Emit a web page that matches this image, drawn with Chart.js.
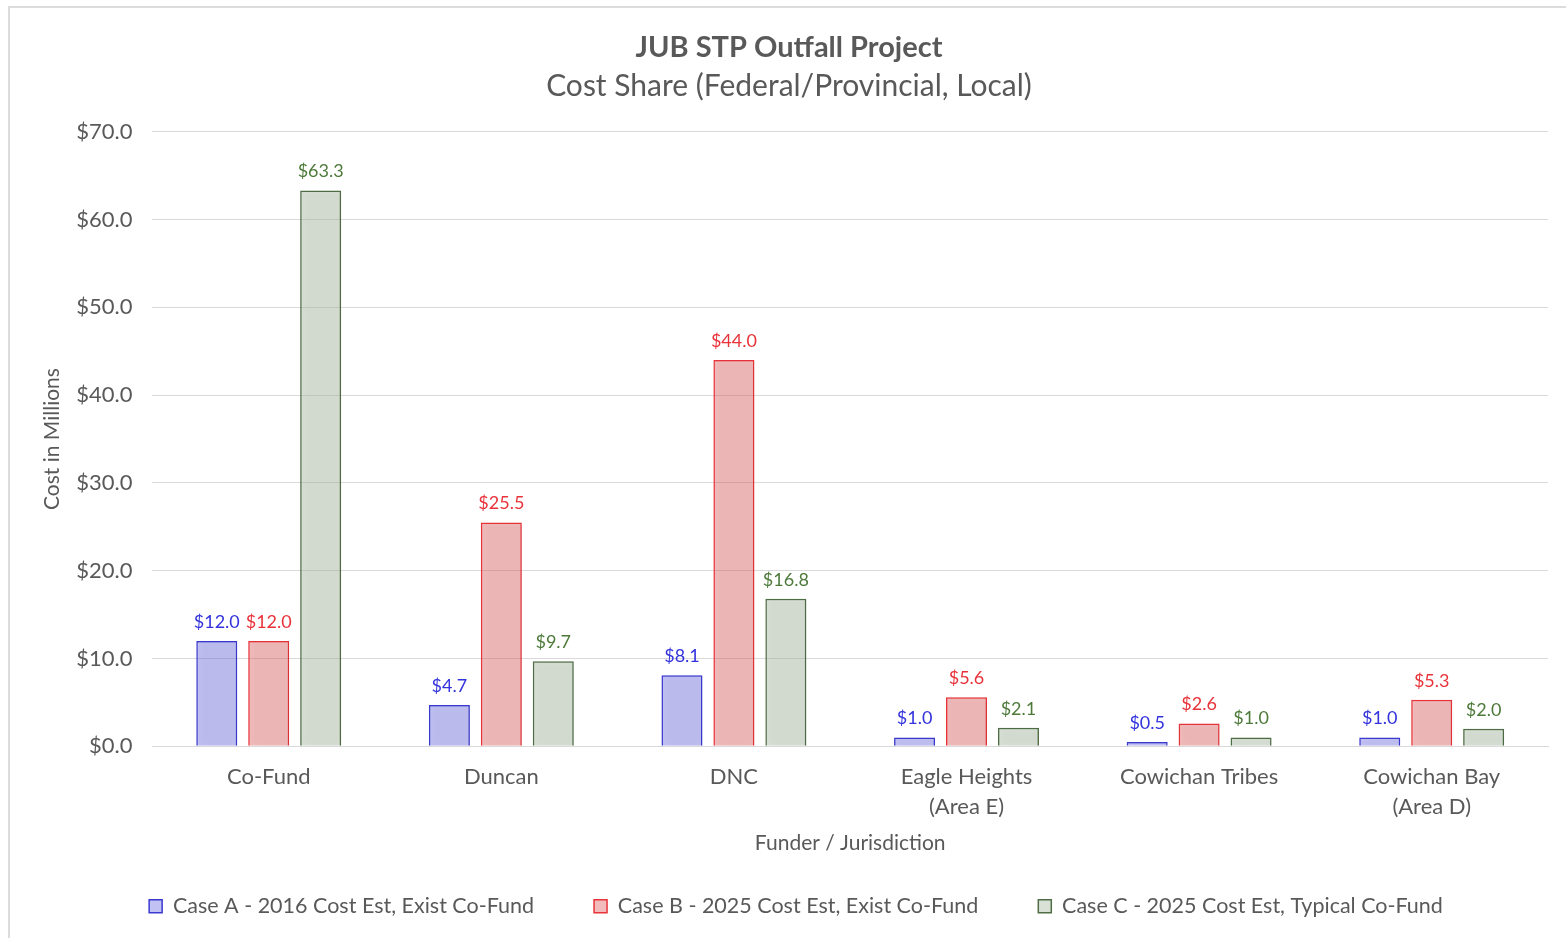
<!DOCTYPE html>
<html>
<head>
<meta charset="utf-8">
<script src="https://cdn.jsdelivr.net/npm/chart.js@4.4.1/dist/chart.umd.min.js"></script>
<style>
  html, body { margin: 0; padding: 0; background: #fff; }
  #wrap { position: absolute; left: 8px; top: 6px; width: 1570px; height: 940px; border: 2px solid #dcdcdc; box-sizing: border-box; }
  #box { position: absolute; left: 0; top: 0; width: 1566px; height: 938px; }
</style>
</head>
<body>
<div id="wrap"></div>
<div id="box"><canvas id="costChart"></canvas></div>
<script>
const categories = ['Co-Fund', 'Duncan', 'DNC', ['Eagle Heights', '(Area E)'], 'Cowichan Tribes', ['Cowichan Bay', '(Area D)']];
const caseA = [12.0, 4.7, 8.1, 1.0, 0.5, 1.0];
const caseB = [12.0, 25.5, 44.0, 5.6, 2.6, 5.3];
const caseC = [63.3, 9.7, 16.8, 2.1, 1.0, 2.0];
const seriesNames = [
  'Case A - 2016 Cost Est, Exist Co-Fund',
  'Case B - 2025 Cost Est, Exist Co-Fund',
  'Case C - 2025 Cost Est, Typical Co-Fund'
];

const fontFam = "Lato, 'Open Sans', sans-serif";
const grey = '#595959';

// sombra suave detras de las barras
const barShadow = {
  id: 'barShadow',
  beforeDatasetsDraw(chart) {
    const ctx = chart.ctx;
    ctx.save();
    ctx.shadowColor = 'rgba(0, 0, 0, 0.12)';
    ctx.shadowBlur = 6;
    ctx.shadowOffsetX = 3;
    ctx.shadowOffsetY = 1;
  },
  afterDatasetsDraw(chart) {
    chart.ctx.restore();
  }
};

// etiquetas de valor encima de cada barra
const barLabels = {
  id: 'barLabels',
  afterDatasetsDraw(chart) {
    const ctx = chart.ctx;
    ctx.save();
    ctx.font = '18px ' + fontFam;
    ctx.textAlign = 'center';
    ctx.textBaseline = 'bottom';
    chart.data.datasets.forEach((ds, i) => {
      const meta = chart.getDatasetMeta(i);
      ctx.fillStyle = ds.labelColor;
      meta.data.forEach((bar, j) => {
        ctx.fillText('$' + ds.data[j].toFixed(1), bar.x, bar.y - 10);
      });
    });
    ctx.restore();
  }
};

// mover la leyenda un poco a la derecha
const legendShift = {
  id: 'legendShift',
  afterLayout(chart) {
    chart.legend.left += 7;
    chart.legend.right += 7;
  }
};

document.addEventListener('DOMContentLoaded', () => {
  const ctx = document.getElementById('costChart').getContext('2d');
  new Chart(ctx, {
    type: 'bar',
    data: {
      labels: categories,
      datasets: [
        {
          label: seriesNames[0],
          data: caseA,
          backgroundColor: 'rgba(120, 120, 228, 0.46)',
          borderColor: '#3a3ad0',
          borderWidth: 1.5,
          labelColor: '#3333dd'
        },
        {
          label: seriesNames[1],
          data: caseB,
          backgroundColor: 'rgba(228, 110, 110, 0.46)',
          borderColor: '#e8343a',
          borderWidth: 1.5,
          labelColor: '#e8333a'
        },
        {
          label: seriesNames[2],
          data: caseC,
          backgroundColor: 'rgba(172, 188, 166, 0.46)',
          borderColor: '#4f6e45',
          borderWidth: 1.5,
          labelColor: '#4d7a3a'
        }
      ]
    },
    options: {
      responsive: true,
      maintainAspectRatio: false,
      animation: false,
      categoryPercentage: 0.67,
      barPercentage: 0.79,
      layout: { padding: { top: 19, left: 30, right: 18, bottom: 11 } },
      plugins: {
        title: {
          display: true,
          text: 'JUB STP Outfall Project',
          color: grey,
          font: { family: fontFam, size: 29, weight: 'bold' },
          padding: { top: 11, bottom: 4 }
        },
        subtitle: {
          display: true,
          text: 'Cost Share (Federal/Provincial, Local)',
          color: grey,
          font: { family: fontFam, size: 30 },
          padding: { bottom: 27 }
        },
        legend: {
          position: 'bottom',
          labels: {
            color: grey,
            font: { family: fontFam, size: 21.5 },
            boxWidth: 13,
            boxHeight: 13,
            padding: 60
          }
        },
        tooltip: { enabled: false }
      },
      scales: {
        x: {
          grid: { display: false },
          border: { color: '#d9d9d9' },
          ticks: { color: grey, font: { family: fontFam, size: 22, lineHeight: 1.364 }, padding: 8, maxRotation: 0 },
          title: {
            display: true,
            text: 'Funder / Jurisdiction',
            color: grey,
            font: { family: fontFam, size: 21 },
            padding: { top: 0, bottom: -20 }
          }
        },
        y: {
          min: 0,
          max: 70,
          grid: { color: '#d9d9d9', drawTicks: false },
          border: { display: false },
          ticks: {
            stepSize: 10,
            color: grey,
            font: { family: fontFam, size: 22 },
            padding: 20,
            callback: v => '$' + v.toFixed(1)
          },
          title: {
            display: true,
            text: 'Cost in Millions',
            color: grey,
            font: { family: fontFam, size: 21 },
            padding: { top: 10, bottom: -9 }
          }
        }
      }
    },
    plugins: [barShadow, barLabels, legendShift]
  });
});
</script>
</body>
</html>
